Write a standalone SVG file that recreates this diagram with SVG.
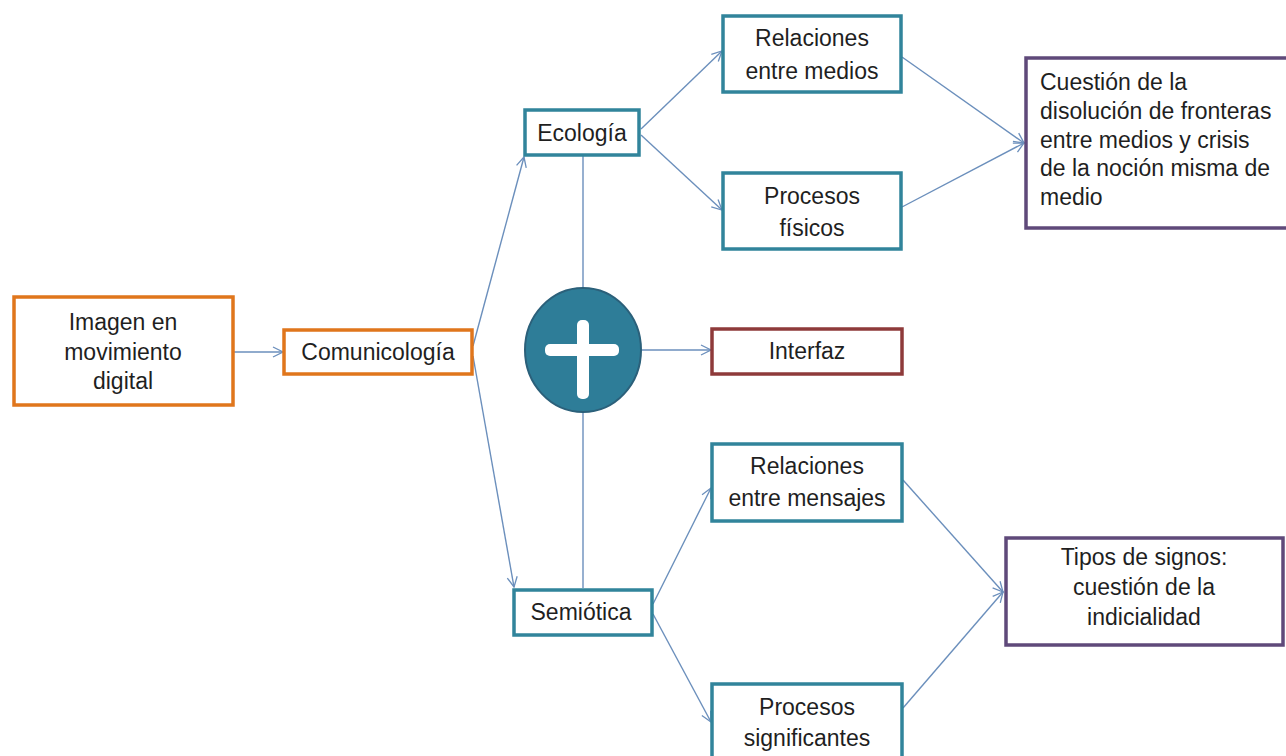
<svg xmlns="http://www.w3.org/2000/svg" width="1286" height="756" viewBox="0 0 1286 756">
<defs>
<marker id="arr" viewBox="0 0 12 12" refX="11" refY="6" markerWidth="12" markerHeight="12" markerUnits="userSpaceOnUse" orient="auto">
<path d="M1,1 L11,6 L1,11" fill="none" stroke="#6B8FBC" stroke-width="1.3"/>
</marker>
<style>
text{font-family:"Liberation Sans",Arial,sans-serif;font-size:23px;fill:#1f1f1f;text-anchor:middle}
.l{text-anchor:start}
.or{fill:#fff;stroke:#E0761C;stroke-width:3.5}
.tl{fill:#fff;stroke:#31849B;stroke-width:3.5}
.pu{fill:#fff;stroke:#5F497A;stroke-width:3.5}
.rd{fill:#fff;stroke:#8E3A3A;stroke-width:3.5}
.c{fill:none;stroke:#6B8FBC;stroke-width:1.4}
.a{marker-end:url(#arr)}
</style>
</defs>
<rect width="1286" height="756" fill="#fff"/>
<g id="connectors">
<line class="c a" x1="234" y1="352" x2="283" y2="352"/>
<line class="c a" x1="473" y1="346" x2="524" y2="157"/>
<line class="c a" x1="473" y1="356" x2="514" y2="587"/>
<line class="c a" x1="641" y1="129" x2="722" y2="51"/>
<line class="c a" x1="641" y1="135" x2="722" y2="210"/>
<line class="c a" x1="902" y1="57" x2="1024" y2="143"/>
<line class="c a" x1="902" y1="207" x2="1024" y2="143"/>
<line class="c" x1="583" y1="156" x2="583" y2="287"/>
<line class="c" x1="583" y1="413" x2="583" y2="588"/>
<line class="c a" x1="642" y1="350" x2="711" y2="350"/>
<line class="c a" x1="653" y1="604" x2="711" y2="488"/>
<line class="c a" x1="653" y1="614" x2="711" y2="722"/>
<line class="c a" x1="903" y1="480" x2="1003" y2="592"/>
<line class="c a" x1="903" y1="708" x2="1003" y2="592"/>
</g>
<g id="imagen">
<rect class="or" x="14" y="297" width="219" height="108"/>
<text x="123" y="330">Imagen en</text>
<text x="123" y="360">movimiento</text>
<text x="123" y="389">digital</text>
</g>
<g id="comunicologia">
<rect class="or" x="284" y="330" width="188" height="44"/>
<text x="378" y="360">Comunicología</text>
</g>
<g id="ecologia">
<rect class="tl" x="525" y="110" width="114" height="45"/>
<text x="582" y="141">Ecología</text>
</g>
<g id="relaciones-medios">
<rect class="tl" x="723" y="16" width="178" height="76"/>
<text x="812" y="46">Relaciones</text>
<text x="812" y="79">entre medios</text>
</g>
<g id="procesos-fisicos">
<rect class="tl" x="723" y="173" width="178" height="76"/>
<text x="812" y="204">Procesos</text>
<text x="812" y="236">físicos</text>
</g>
<g id="cuestion">
<rect class="pu" x="1026" y="58" width="264" height="170"/>
<text class="l" x="1040" y="90">Cuestión de la</text>
<text class="l" x="1040" y="119">disolución de fronteras</text>
<text class="l" x="1040" y="148">entre medios y crisis</text>
<text class="l" x="1040" y="176">de la noción misma de</text>
<text class="l" x="1040" y="205">medio</text>
</g>
<g id="plus">
<ellipse cx="583" cy="350" rx="58" ry="62" fill="#2E7D98" stroke="#2B607A" stroke-width="2"/>
<rect x="545" y="344" width="74" height="12" rx="5" fill="#fff"/>
<rect x="577" y="320" width="12" height="79" rx="5" fill="#fff"/>
</g>
<g id="interfaz">
<rect class="rd" x="712" y="329" width="190" height="45"/>
<text x="807" y="359">Interfaz</text>
</g>
<g id="semiotica">
<rect class="tl" x="514" y="590" width="138" height="45"/>
<text x="581" y="620">Semiótica</text>
</g>
<g id="relaciones-mensajes">
<rect class="tl" x="712" y="444" width="190" height="77"/>
<text x="807" y="474">Relaciones</text>
<text x="807" y="506">entre mensajes</text>
</g>
<g id="procesos-significantes">
<rect class="tl" x="712" y="684" width="190" height="76"/>
<text x="807" y="715">Procesos</text>
<text x="807" y="746">significantes</text>
</g>
<g id="tipos">
<rect class="pu" x="1006" y="538" width="277" height="107"/>
<text x="1144" y="565">Tipos de signos:</text>
<text x="1144" y="595">cuestión de la</text>
<text x="1144" y="625">indicialidad</text>
</g>
</svg>
